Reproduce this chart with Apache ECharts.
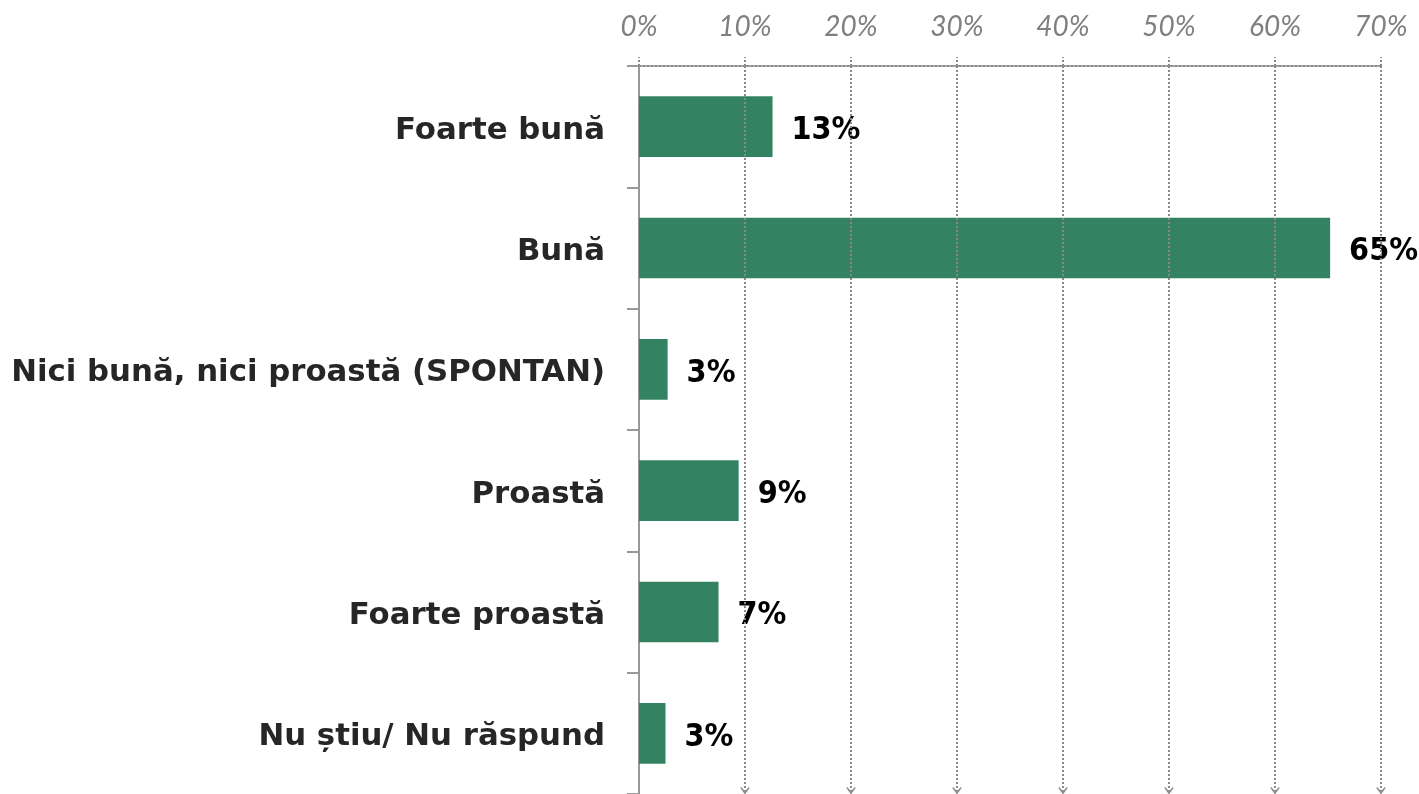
<!DOCTYPE html>
<html>
<head>
<meta charset="utf-8">
<script src="https://cdn.jsdelivr.net/npm/echarts@6/dist/echarts.min.js"></script>
<style>
html,body{margin:0;padding:0;background:#fff;}
#chart{width:1419px;height:794px;}
</style>
</head>
<body>
<div id="chart"></div>
<script>
const categories = ["Foarte bună", "Bună", "Nici bună, nici proastă (SPONTAN)", "Proastă", "Foarte proastă", "Nu știu/ Nu răspund"];
const values = [12.6, 65.2, 2.7, 9.4, 7.5, 2.5];
const valueLabels = ["13%", "65%", "3%", "9%", "7%", "3%"];
const xTicks = [0, 10, 20, 30, 40, 50, 60, 70];

const chart = echarts.init(document.getElementById('chart'), null, {renderer: 'canvas'});
const gridColor = '#8a8a8a';
const chevron = 'path://M0,10 L5,0 L10,10 L8.2,10 L5,4.2 L1.8,10 Z';

chart.setOption({
  animation: false,
  grid: {left: 639, top: 66, right: 38, height: 731, containLabel: false},
  xAxis: {
    type: 'value',
    position: 'top',
    min: xTicks[0],
    max: xTicks[xTicks.length - 1],
    interval: 10,
    axisLine: {show: true, lineStyle: {color: gridColor, width: 2, type: [2, 2]}},
    axisTick: {show: true, length: 9, lineStyle: {color: gridColor, width: 2, type: [2, 2]}},
    splitLine: {show: false},
    axisLabel: {
      formatter: '{value}%',
      fontFamily: 'Lato',
      fontStyle: 'italic',
      fontSize: 28,
      color: '#7f7f7f',
      margin: 25
    }
  },
  yAxis: {
    type: 'category',
    inverse: true,
    data: categories,
    axisLine: {show: true, lineStyle: {color: '#999999', width: 2}},
    axisTick: {show: true, length: 12, lineStyle: {color: '#999999', width: 2}},
    axisLabel: {
      formatter: v => '{c|' + v + '}',
      margin: 34,
      rich: {
        c: {
          fontFamily: 'DejaVu Sans',
          fontWeight: 'bold',
          fontSize: 30.8,
          color: '#262626',
          padding: [8, 0, 0, 0]
        }
      }
    }
  },
  series: [{
    type: 'bar',
    data: values,
    barWidth: '50%',
    itemStyle: {color: '#338262'},
    label: {
      show: true,
      position: 'right',
      distance: 19,
      offset: [0, 4],
      formatter: p => valueLabels[p.dataIndex],
      fontFamily: 'DejaVu Sans Condensed',
      fontWeight: 'bold',
      fontSize: 32,
      color: '#000000'
    },
    markLine: {
      silent: true,
      symbol: ['none', chevron],
      symbolSize: [10, 7],
      label: {show: false},
      lineStyle: {color: gridColor, width: 2, type: [2, 2]},
      data: xTicks.slice(1).map(v => [{xAxis: v, y: 66}, {xAxis: v, y: 791}])
    },
    z: 3
  }]
});
</script>
</body>
</html>
